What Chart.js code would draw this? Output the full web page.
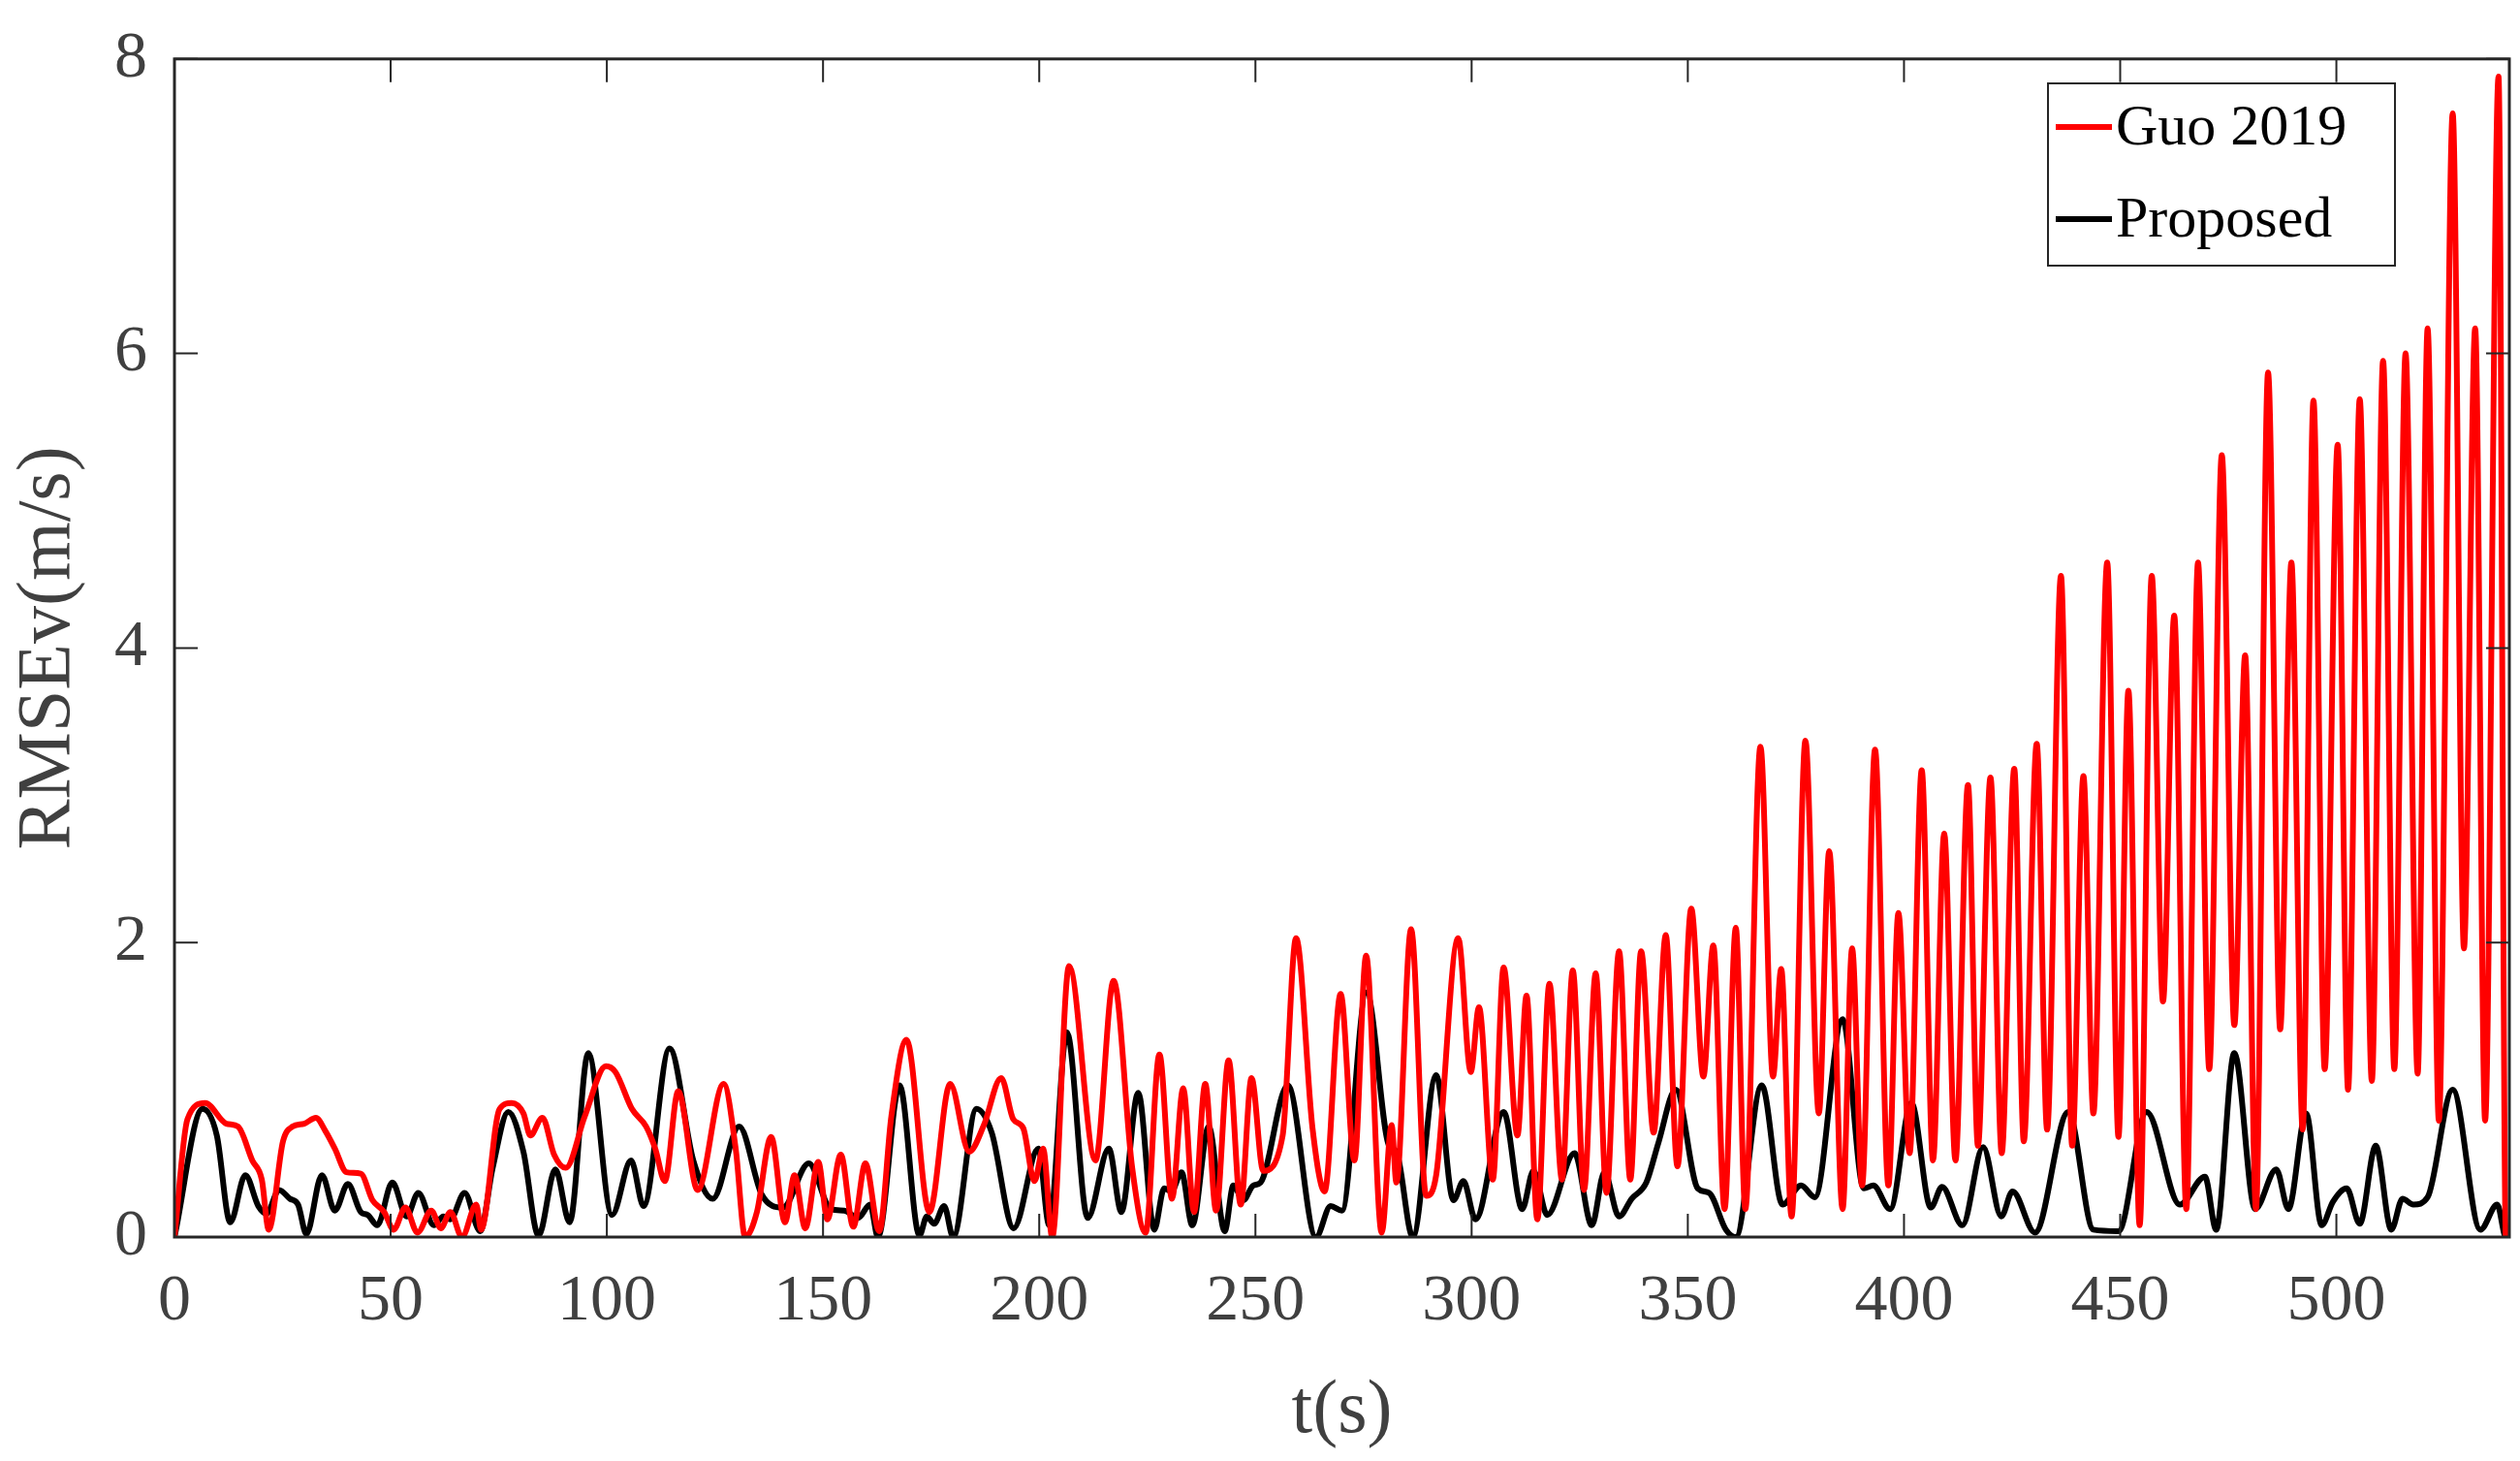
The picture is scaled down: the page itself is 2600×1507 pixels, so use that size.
<!DOCTYPE html>
<html>
<head>
<meta charset="utf-8">
<script src="https://cdn.jsdelivr.net/npm/chart.js@4"></script>
<style>
  html, body { margin: 0; padding: 0; background: #fff; }
  #wrap { width: 2600px; height: 1507px; }
</style>
</head>
<body>
<div id="wrap"><canvas id="c" width="2600" height="1507"></canvas></div>
<script>
/* RMSE of velocity: Guo 2019 vs proposed method */

const guoT = [0, 3, 7.1, 12, 14.7, 18, 20.2, 21.8, 25.1, 27.3, 30, 32.7, 34.9, 37.1, 39.8, 43.1, 45.8, 48.5, 50.7, 53.4, 56.2, 59.4, 61.6, 63.8, 66.5, 69.8, 70.9,
  75.2, 78, 80.7, 82.3, 85.1, 87.8, 90.5, 94.9, 99.8, 102, 105.8, 109.1, 111.2, 113.4, 116.5, 121, 127, 129.8, 132, 134.7, 138, 141.2, 143.4, 145.9, 148.9,
  151, 154.1, 157, 159.8, 163, 165.8, 169.3, 174.6, 179.4, 183.8, 187.2, 191.2, 194, 196.3, 198.9, 200.9, 203, 206.9, 213, 217.2, 221.5, 224.6, 227.8,
  230.7, 233.3, 235.8, 238.4, 240.9, 243.8, 246.6, 249.1, 251.8, 256.3, 259.4, 263.2, 266, 269.7, 272.9, 275.6, 279.2, 281.5, 282.6, 286, 289.5, 291.8,
  296.9, 299.8, 301.7, 304.9, 307.4, 310.6, 312.7, 315.2, 318, 320.9, 323.4, 326, 328.7, 331.2, 334.1, 336.7, 339.2, 342.1, 344.9, 347.6, 350.8, 353.6,
  355.9, 358.5, 361.1, 363.3, 366.8, 369.7, 371.6, 374, 377.2, 380.3, 382.7, 385.8, 388, 390.3, 393.3, 396.4, 398.7, 401.3, 404.1, 406.7, 409.3, 411.9,
  414.8, 417.1, 420, 422.6, 425.5, 427.7, 430.7, 433.1, 436.3, 438.9, 441.5, 443.8, 447, 449.6, 451.9, 454.5, 457.3, 459.9, 462.5, 465.3, 468, 470.6,
  473.5, 476.4, 478.9, 481.4, 484.2, 487, 489.6, 492.2, 494.7, 497.3, 500.3, 502.7, 505.4, 508.2, 510.8, 513.4, 516, 518.8, 521.1, 523.7, 526.9, 529.5,
  532.1, 534.4, 537.5, 539.2, 540];
const guoV = [0, 0.8, 0.91, 0.77, 0.75, 0.52, 0.39, 0.05, 0.65, 0.75, 0.77, 0.81, 0.72, 0.6, 0.44, 0.43, 0.25, 0.17, 0.05, 0.2, 0.03, 0.18, 0.06, 0.17, 0, 0.22, 0.05,
  0.87, 0.91, 0.84, 0.69, 0.81, 0.56, 0.47, 0.82, 1.16, 1.12, 0.87, 0.75, 0.6, 0.38, 0.99, 0.32, 1.04, 0.6, 0, 0.17, 0.68, 0.1, 0.42, 0.06, 0.51,
  0.12, 0.56, 0.07, 0.5, 0.04, 0.82, 1.34, 0.17, 1.04, 0.58, 0.76, 1.08, 0.8, 0.74, 0.38, 0.6, 0, 1.84, 0.52, 1.74, 0.47, 0.03, 1.24,
  0.26, 1.01, 0.17, 1.04, 0.18, 1.2, 0.22, 1.08, 0.45, 0.69, 2.03, 0.74, 0.31, 1.65, 0.52, 1.91, 0.03, 0.76, 0.37, 2.09, 0.28, 0.42,
  2.03, 1.12, 1.56, 0.39, 1.83, 0.69, 1.64, 0.12, 1.72, 0.39, 1.81, 0.32, 1.79, 0.3, 1.94, 0.39, 1.94, 0.71, 2.05, 0.48, 2.23, 1.09,
  1.98, 0.19, 2.1, 0.19, 3.33, 1.09, 1.82, 0.14, 3.37, 0.84, 2.62, 0.19, 1.96, 0.35, 3.31, 0.35, 2.2, 0.57, 3.17, 0.52, 2.74, 0.52,
  3.07, 0.62, 3.12, 0.57, 3.18, 0.65, 3.35, 0.73, 4.49, 0.62, 3.13, 0.84, 4.58, 0.68, 3.71, 0.08, 4.49, 1.6, 4.22, 0.19, 4.58, 1.14,
  5.31, 1.44, 3.95, 0.19, 5.87, 1.41, 4.58, 0.73, 5.68, 1.14, 5.38, 1.0, 5.69, 1.06, 5.95, 1.14, 6.0, 1.11, 6.17, 0.79, 7.63, 1.96,
  6.17, 0.79, 7.88, 0, 0];

const propT = [0, 6.5, 9.8, 12.9, 16.4, 19.4, 21.3, 24.2, 26.7, 28.6, 30.5, 34.1, 37.1, 40.1, 43.1, 44.7, 46.9, 50.4, 53.7, 56.4, 60, 62.2, 63.8, 67.1, 70.7,
  73.6, 77.2, 80.7, 84.2, 88.1, 91.4, 95.7, 101.2, 105.6, 108.5, 114.5, 120, 124.5, 130.6, 135.8, 140.7, 146.7, 151.8, 154.9, 158.1, 160.9, 162.7, 167.7,
  172.3, 174, 175.7, 178, 180.1, 185.5, 189, 194.1, 199.8, 202.3, 206.4, 211.2, 216.1, 219, 222.9, 226.6, 228.9, 230.6, 232.9, 235.4, 239.2, 242.9, 244.9,
  247.2, 249.5, 251.2, 257.5, 264, 267.4, 270, 275.7, 280.9, 282.6, 286.4, 291.8, 295.8, 298.1, 300.9, 307.4, 311.7, 314.3, 317.5, 323.8, 327.8, 330.7,
  334.1, 337, 340.4, 343.2, 347.2, 352.3, 354.9, 358.8, 361.1, 367.1, 371.9, 376.2, 379.4, 385.8, 390.7, 392.9, 396.8, 401.7, 406.2, 408.8, 413.5, 418.3,
  422.5, 425.1, 430.3, 438, 443.8, 449.6, 456.1, 463.8, 469.6, 472.2, 476.4, 481.2, 486.1, 488.9, 493, 496.6, 499.2, 502.4, 505.4, 509.1, 512.7, 515.3,
  517.8, 521.1, 526.9, 533.3, 537.2, 539.2, 540];
const propV = [0, 0.87, 0.69, 0.1, 0.42, 0.21, 0.16, 0.32, 0.26, 0.22, 0.02, 0.42, 0.18, 0.36, 0.17, 0.15, 0.08, 0.37, 0.14, 0.3, 0.08, 0.14, 0.12, 0.3, 0.04,
  0.47, 0.85, 0.58, 0.01, 0.46, 0.1, 1.25, 0.15, 0.52, 0.21, 1.28, 0.52, 0.26, 0.75, 0.29, 0.2, 0.5, 0.19, 0.18, 0.13, 0.22, 0, 1.03,
  0.01, 0.14, 0.09, 0.21, 0, 0.87, 0.71, 0.06, 0.6, 0.08, 1.39, 0.13, 0.6, 0.17, 0.98, 0.05, 0.33, 0.31, 0.44, 0.08, 0.75, 0.04, 0.35,
  0.25, 0.35, 0.37, 1.03, 0, 0.21, 0.18, 1.66, 0.62, 0.58, 0, 1.1, 0.25, 0.38, 0.12, 0.85, 0.19, 0.45, 0.15, 0.57, 0.08, 0.44,
  0.14, 0.26, 0.37, 0.64, 1.0, 0.33, 0.3, 0.05, 0, 1.03, 0.22, 0.35, 0.27, 1.48, 0.33, 0.35, 0.19, 0.91, 0.2, 0.34, 0.08, 0.61,
  0.14, 0.31, 0.03, 0.85, 0.05, 0.04, 0.85, 0.22, 0.41, 0.05, 1.25, 0.19, 0.46, 0.19, 0.84, 0.08, 0.24, 0.33, 0.09, 0.62, 0.05, 0.26,
  0.22, 0.27, 1.0, 0.05, 0.22, 0, 0];

const xTicks = [0, 50, 100, 150, 200, 250, 300, 350, 400, 450, 500];
const yTicks = [0, 2, 4, 6, 8];
const seriesNames = ["Guo 2019", "Proposed"];

const FONT = "'Liberation Serif', 'DejaVu Serif', serif";
const AXIS = "#262626";

function toPoints(ts, vs) {
  return ts.map((t, i) => ({ x: t, y: vs[i] }));
}

// box around the plot with inward ticks on all four sides
const boxTicks = {
  id: "boxTicks",
  afterDraw(chart) {
    const { ctx, chartArea: a, scales } = chart;
    ctx.save();
    ctx.strokeStyle = AXIS;
    ctx.lineWidth = 2;
    xTicks.forEach((t) => {
      const px = scales.x.getPixelForValue(t);
      ctx.beginPath();
      ctx.moveTo(px, a.bottom); ctx.lineTo(px, a.bottom - 24);
      ctx.moveTo(px, a.top); ctx.lineTo(px, a.top + 24);
      ctx.stroke();
    });
    yTicks.forEach((v) => {
      const py = scales.y.getPixelForValue(v);
      ctx.beginPath();
      ctx.moveTo(a.left, py); ctx.lineTo(a.left + 24, py);
      ctx.moveTo(a.right, py); ctx.lineTo(a.right - 24, py);
      ctx.stroke();
    });
    ctx.lineWidth = 3;
    ctx.strokeRect(a.left, a.top, a.right - a.left, a.bottom - a.top);
    ctx.restore();
  },
};

// legend inside the top right corner
const innerLegend = {
  id: "innerLegend",
  afterDraw(chart) {
    const { ctx } = chart;
    const x0 = 2113, y0 = 86, w = 358, h = 188;
    ctx.save();
    ctx.fillStyle = "#fff";
    ctx.fillRect(x0, y0, w, h);
    ctx.strokeStyle = AXIS;
    ctx.lineWidth = 2;
    ctx.strokeRect(x0, y0, w, h);
    ctx.font = "60px " + FONT;
    ctx.textBaseline = "middle";
    chart.data.datasets.forEach((ds, i) => {
      const cy = y0 + 45 + i * 95;
      ctx.strokeStyle = ds.borderColor;
      ctx.lineWidth = 6;
      ctx.beginPath();
      ctx.moveTo(x0 + 8, cy); ctx.lineTo(x0 + 66, cy);
      ctx.stroke();
      ctx.fillStyle = "#000";
      ctx.fillText(ds.label, x0 + 70, cy + 2);
    });
    ctx.restore();
  },
};

new Chart(document.getElementById("c"), {
  type: "scatter",
  data: {
    datasets: [
      {
        label: seriesNames[0],
        data: toPoints(guoT, guoV),
        showLine: true,
        borderColor: "#ff0000",
        borderWidth: 6,
        pointRadius: 0,
        cubicInterpolationMode: "monotone",
      },
      {
        label: seriesNames[1],
        data: toPoints(propT, propV),
        showLine: true,
        borderColor: "#000000",
        borderWidth: 6,
        pointRadius: 0,
        cubicInterpolationMode: "monotone",
      },
    ],
  },
  options: {
    responsive: false,
    animation: false,
    devicePixelRatio: 1,
    layout: { padding: { top: 50, right: 11, left: 0, bottom: 0 } },
    plugins: { legend: { display: false }, tooltip: { enabled: false } },
    scales: {
      x: {
        type: "linear",
        min: 0,
        max: 540,
        afterFit: (s) => { s.height = 231; },
        afterBuildTicks: (s) => { s.ticks = xTicks.map((v) => ({ value: v })); },
        grid: { display: false },
        border: { display: false },
        ticks: { color: "#404040", font: { family: FONT, size: 68 }, padding: 18, maxRotation: 0 },
        title: { display: true, text: "t(s)", color: "#404040", font: { family: FONT, size: 78 }, padding: { top: 6 } },
      },
      y: {
        min: 0,
        max: 8,
        afterFit: (s) => { s.width = 180; },
        afterBuildTicks: (s) => { s.ticks = yTicks.map((v) => ({ value: v })); },
        grid: { display: false },
        border: { display: false },
        ticks: { color: "#404040", font: { family: FONT, size: 68 }, padding: 20 },
        title: { display: true, text: "RMSEv(m/s)", color: "#404040", font: { family: FONT, size: 78 }, padding: { bottom: 0 } },
      },
    },
  },
  plugins: [boxTicks, innerLegend],
});
</script>
</body>
</html>
